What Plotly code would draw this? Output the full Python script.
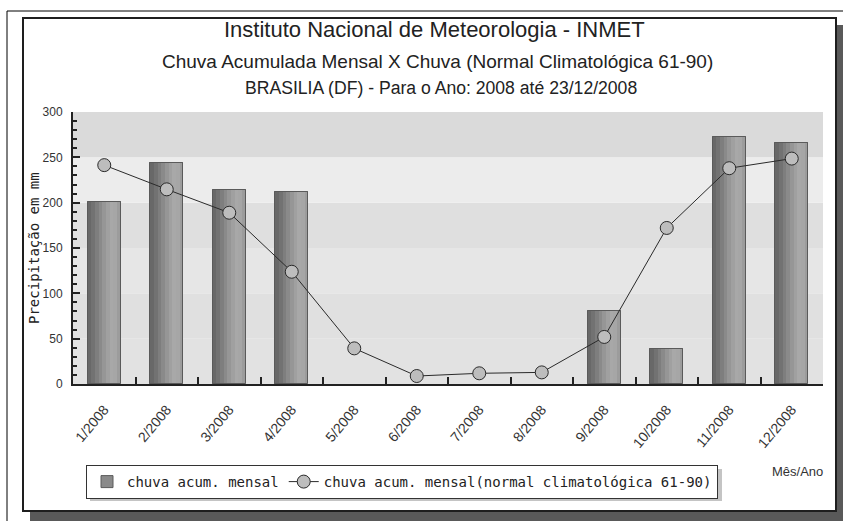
import plotly.graph_objects as go

months = ["1/2008", "2/2008", "3/2008", "4/2008", "5/2008", "6/2008",
          "7/2008", "8/2008", "9/2008", "10/2008", "11/2008", "12/2008"]
chuva_mensal = [201, 244, 214, 212, 0, 0, 0, 0, 81, 39, 272, 266]
chuva_normal = [241.4, 214.7, 188.9, 123.8, 39.3, 8.8, 11.8, 12.8, 51.9, 172.1, 238.0, 248.6]
y_ticks = [0, 50, 100, 150, 200, 250, 300]

# pixel helpers for layout decorations (plot area: x 73..823, y 112..384)
L, R, T, B = 73, 823, 112, 384
def px(x):
    return (x - L) / (R - L)
def py(y):
    return (B - y) / (B - T)

BAR_W = 0.53
slice_colors = ["#686868", "#727272", "#7e7e7e", "#8a8a8a", "#969696",
                "#a0a0a0", "#a8a8a8", "#a6a6a6", "#9c9c9c"]
MONO = "DejaVu Sans Mono"
SANS = "Liberation Sans, Arial, sans-serif"
outline_w = [1 if v > 0 else 0 for v in chuva_mensal]

fig = go.Figure()

# legend / base bar
fig.add_trace(go.Bar(
    x=months, y=chuva_mensal, name="chuva acum. mensal",
    width=BAR_W, offset=-BAR_W / 2,
    marker=dict(color="#8a8a8a", line=dict(color="#5a5a5a", width=outline_w)),
    hoverinfo="skip"))
# gradient slices
n = len(slice_colors)
for i, c in enumerate(slice_colors):
    fig.add_trace(go.Bar(
        x=months, y=chuva_mensal, showlegend=False,
        width=BAR_W / n, offset=-BAR_W / 2 + i * BAR_W / n,
        marker=dict(color=c, line=dict(width=0)), hoverinfo="skip"))
# outline
fig.add_trace(go.Bar(
    x=months, y=chuva_mensal, showlegend=False,
    width=BAR_W, offset=-BAR_W / 2,
    marker=dict(color="rgba(0,0,0,0)", line=dict(color="#5a5a5a", width=outline_w)),
    hoverinfo="skip"))

fig.add_trace(go.Scatter(
    x=months, y=chuva_normal, mode="lines+markers",
    name="chuva acum. mensal(normal climatológica 61-90)",
    line=dict(color="#2a2a2a", width=1),
    marker=dict(symbol="circle", size=13, color="#bdbdbd",
                line=dict(color="#2a2a2a", width=1))))

shapes = []
# outer frame lines
shapes.append(dict(type="line", xref="paper", yref="paper",
                   x0=px(7), x1=px(843), y0=py(11), y1=py(11),
                   line=dict(color="#000", width=1), layer="below"))
shapes.append(dict(type="line", xref="paper", yref="paper",
                   x0=px(7), x1=px(7), y0=py(11), y1=py(521),
                   line=dict(color="#000", width=1), layer="below"))
# panel shadow and panel
shapes.append(dict(type="rect", xref="paper", yref="paper",
                   x0=px(30), x1=px(843), y0=py(25), y1=py(521),
                   fillcolor="#595959", line=dict(width=0), layer="below"))
shapes.append(dict(type="rect", xref="paper", yref="paper",
                   x0=px(23), x1=px(836), y0=py(18), y1=py(511),
                   fillcolor="#ffffff", line=dict(color="#1e1e1e", width=2),
                   layer="below"))
# background bands of the plot area
band_colors = ["#e2e2e2", "#e0e0e0", "#e6e6e6", "#dfdfdf", "#ececec", "#dadada"]
for k in range(len(y_ticks) - 1):
    shapes.append(dict(type="rect", xref="paper", yref="y",
                       x0=0, x1=1, y0=y_ticks[k], y1=y_ticks[k + 1],
                       fillcolor=band_colors[k], line=dict(width=0),
                       layer="below"))
# legend shadow
shapes.append(dict(type="rect", xref="paper", yref="paper",
                   x0=px(90), x1=px(722), y0=py(469), y1=py(501),
                   fillcolor="#c4c4c4", line=dict(width=0), layer="below"))

annotations = [
    dict(text="Instituto Nacional de Meteorologia - INMET", x=px(434), y=py(30),
         xref="paper", yref="paper", showarrow=False, xanchor="center",
         yanchor="middle", font=dict(family=SANS, size=22, color="#222")),
    dict(text="Chuva Acumulada Mensal X Chuva (Normal Climatológica 61-90)",
         x=px(437), y=py(61), xref="paper", yref="paper", showarrow=False,
         xanchor="center", yanchor="middle",
         font=dict(family=SANS, size=19, color="#222")),
    dict(text="BRASILIA (DF) - Para o Ano: 2008 até 23/12/2008",
         x=px(441), y=py(88), xref="paper", yref="paper", showarrow=False,
         xanchor="center", yanchor="middle",
         font=dict(family=SANS, size=17.6, color="#222")),
    dict(text="Mês/Ano", x=px(797), y=py(471), xref="paper", yref="paper",
         showarrow=False, xanchor="center", yanchor="middle",
         font=dict(family=SANS, size=13, color="#333")),
    dict(text="Precipitação em mm", x=px(34), y=py(248), xref="paper",
         yref="paper", showarrow=False, textangle=-90, xanchor="center",
         yanchor="middle", font=dict(family=MONO, size=14, color="#222")),
]

fig.update_layout(
    width=843, height=521,
    margin=dict(l=L, r=843 - R, t=T, b=521 - B, pad=0),
    paper_bgcolor="#ffffff", plot_bgcolor="rgba(0,0,0,0)",
    barmode="overlay", bargap=0,
    shapes=shapes, annotations=annotations,
    showlegend=True,
    legend=dict(orientation="h", x=px(86), y=py(465), xanchor="left",
                yanchor="top", bgcolor="#ffffff", bordercolor="#333",
                borderwidth=1, font=dict(family=MONO, size=14, color="#222"),
                traceorder="normal"),
    xaxis=dict(type="category", range=[-0.5, 11.5], tickson="boundaries",
               ticks="inside", ticklen=7, tickcolor="#222", tickwidth=1.5,
               showline=True, linecolor="#222", linewidth=2,
               showgrid=False, zeroline=False, tickangle=-50,
               ticklabelstandoff=10,
               tickfont=dict(family=SANS, size=14, color="#333")),
    yaxis=dict(range=[0, 300], tickvals=y_ticks, ticks="inside", ticklen=7,
               tickcolor="#222", tickwidth=1.5, showline=True,
               linecolor="#222", linewidth=2, showgrid=False,
               zeroline=False, ticklabelstandoff=6,
               tickfont=dict(family=SANS, size=12, color="#333"),
               minor=dict(dtick=10, ticks="inside", ticklen=4,
                          tickcolor="#222", showgrid=False)),
)

fig.write_html("out.html", config={"displayModeBar": False},
               post_script="document.body.style.margin='0';"
                           "document.body.style.overflow='hidden';")
